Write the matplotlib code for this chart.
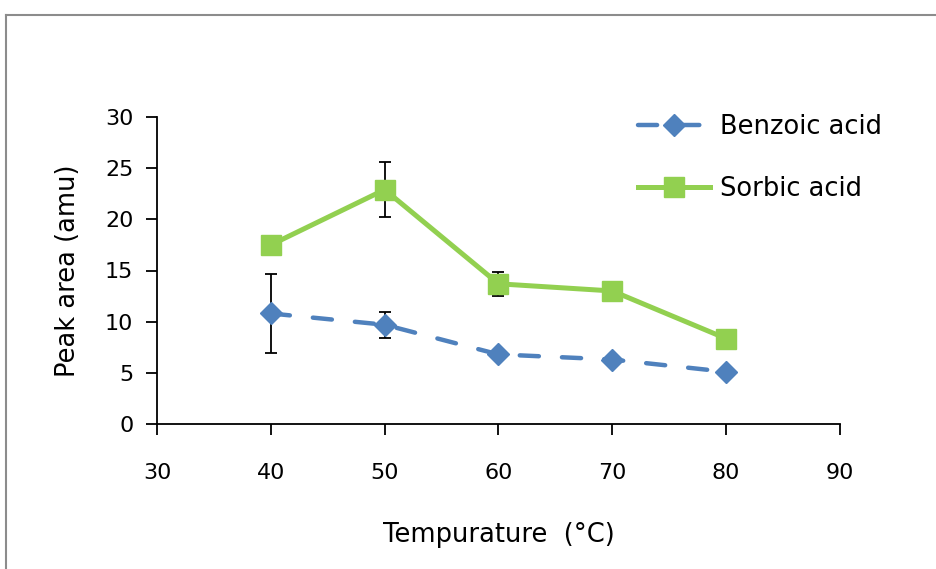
import matplotlib
matplotlib.use('Agg')
import matplotlib.pyplot as plt
from matplotlib.lines import Line2D

plt.rcParams['font.family'] = ['DejaVu Sans']

temps = [40, 50, 60, 70, 80]
benzoic = [10.8, 9.7, 6.8, 6.3, 5.1]
benzoic_err = [3.9, 1.25, 0, 0, 0]
sorbic = [17.5, 22.9, 13.7, 13.0, 8.35]
sorbic_err = [0, 2.7, 1.2, 0, 0]

BLUE = '#4F81BD'
GREEN = '#92D050'

fig = plt.figure(figsize=(9.36, 5.69), dpi=100)
ax = fig.add_axes([157 / 936, 1 - 424 / 569, 683 / 936, 307 / 569])

# error bars first so the markers sit on top
ax.errorbar(temps, benzoic, yerr=benzoic_err, fmt='none', ecolor='black',
            elinewidth=1.3, capsize=4, capthick=1.3, zorder=2)
ax.errorbar(temps, sorbic, yerr=sorbic_err, fmt='none', ecolor='black',
            elinewidth=1.3, capsize=4, capthick=1.3, zorder=2)

ax.plot(temps, benzoic, color=BLUE, lw=3.2, dashes=(4.3, 5.2),
        dash_capstyle='round', marker='D', ms=11, mfc=BLUE, mec=BLUE,
        label='Benzoic acid', zorder=3)
ax.plot(temps, sorbic, color=GREEN, lw=3.6, marker='s', ms=14,
        mfc=GREEN, mec=GREEN, label='Sorbic acid', zorder=3)

ax.set_xlim(30, 90)
ax.set_ylim(0, 30)
ax.set_xticks(range(30, 91, 10))
ax.set_yticks(range(0, 31, 5))
for s in ['top', 'right']:
    ax.spines[s].set_visible(False)
for s in ['left', 'bottom']:
    ax.spines[s].set_linewidth(1.3)
ax.tick_params(direction='out', length=8, width=1.3, labelsize=16)
ax.tick_params(axis='x', pad=20)
ax.tick_params(axis='y', pad=9)

ax.set_xlabel('Tempurature  (°C)', fontsize=18.5, labelpad=28)
ax.set_ylabel('Peak area (amu)', fontsize=18.5, labelpad=17)

leg = ax.legend(loc='upper left', bbox_to_anchor=(0.67, 1.085), frameon=False,
                fontsize=18.5, labelspacing=1.4, handlelength=2.8,
                handletextpad=0.4)

# grey frame around the chart area
fig.add_artist(Line2D([5.5 / 936, 5.5 / 936], [0, 1 - 15 / 569],
                      color='#8c8c8c', lw=1.5, transform=fig.transFigure))
fig.add_artist(Line2D([5.5 / 936, 1], [1 - 15 / 569, 1 - 15 / 569],
                      color='#8c8c8c', lw=1.5, transform=fig.transFigure))

fig.savefig('out.png', dpi=100)
